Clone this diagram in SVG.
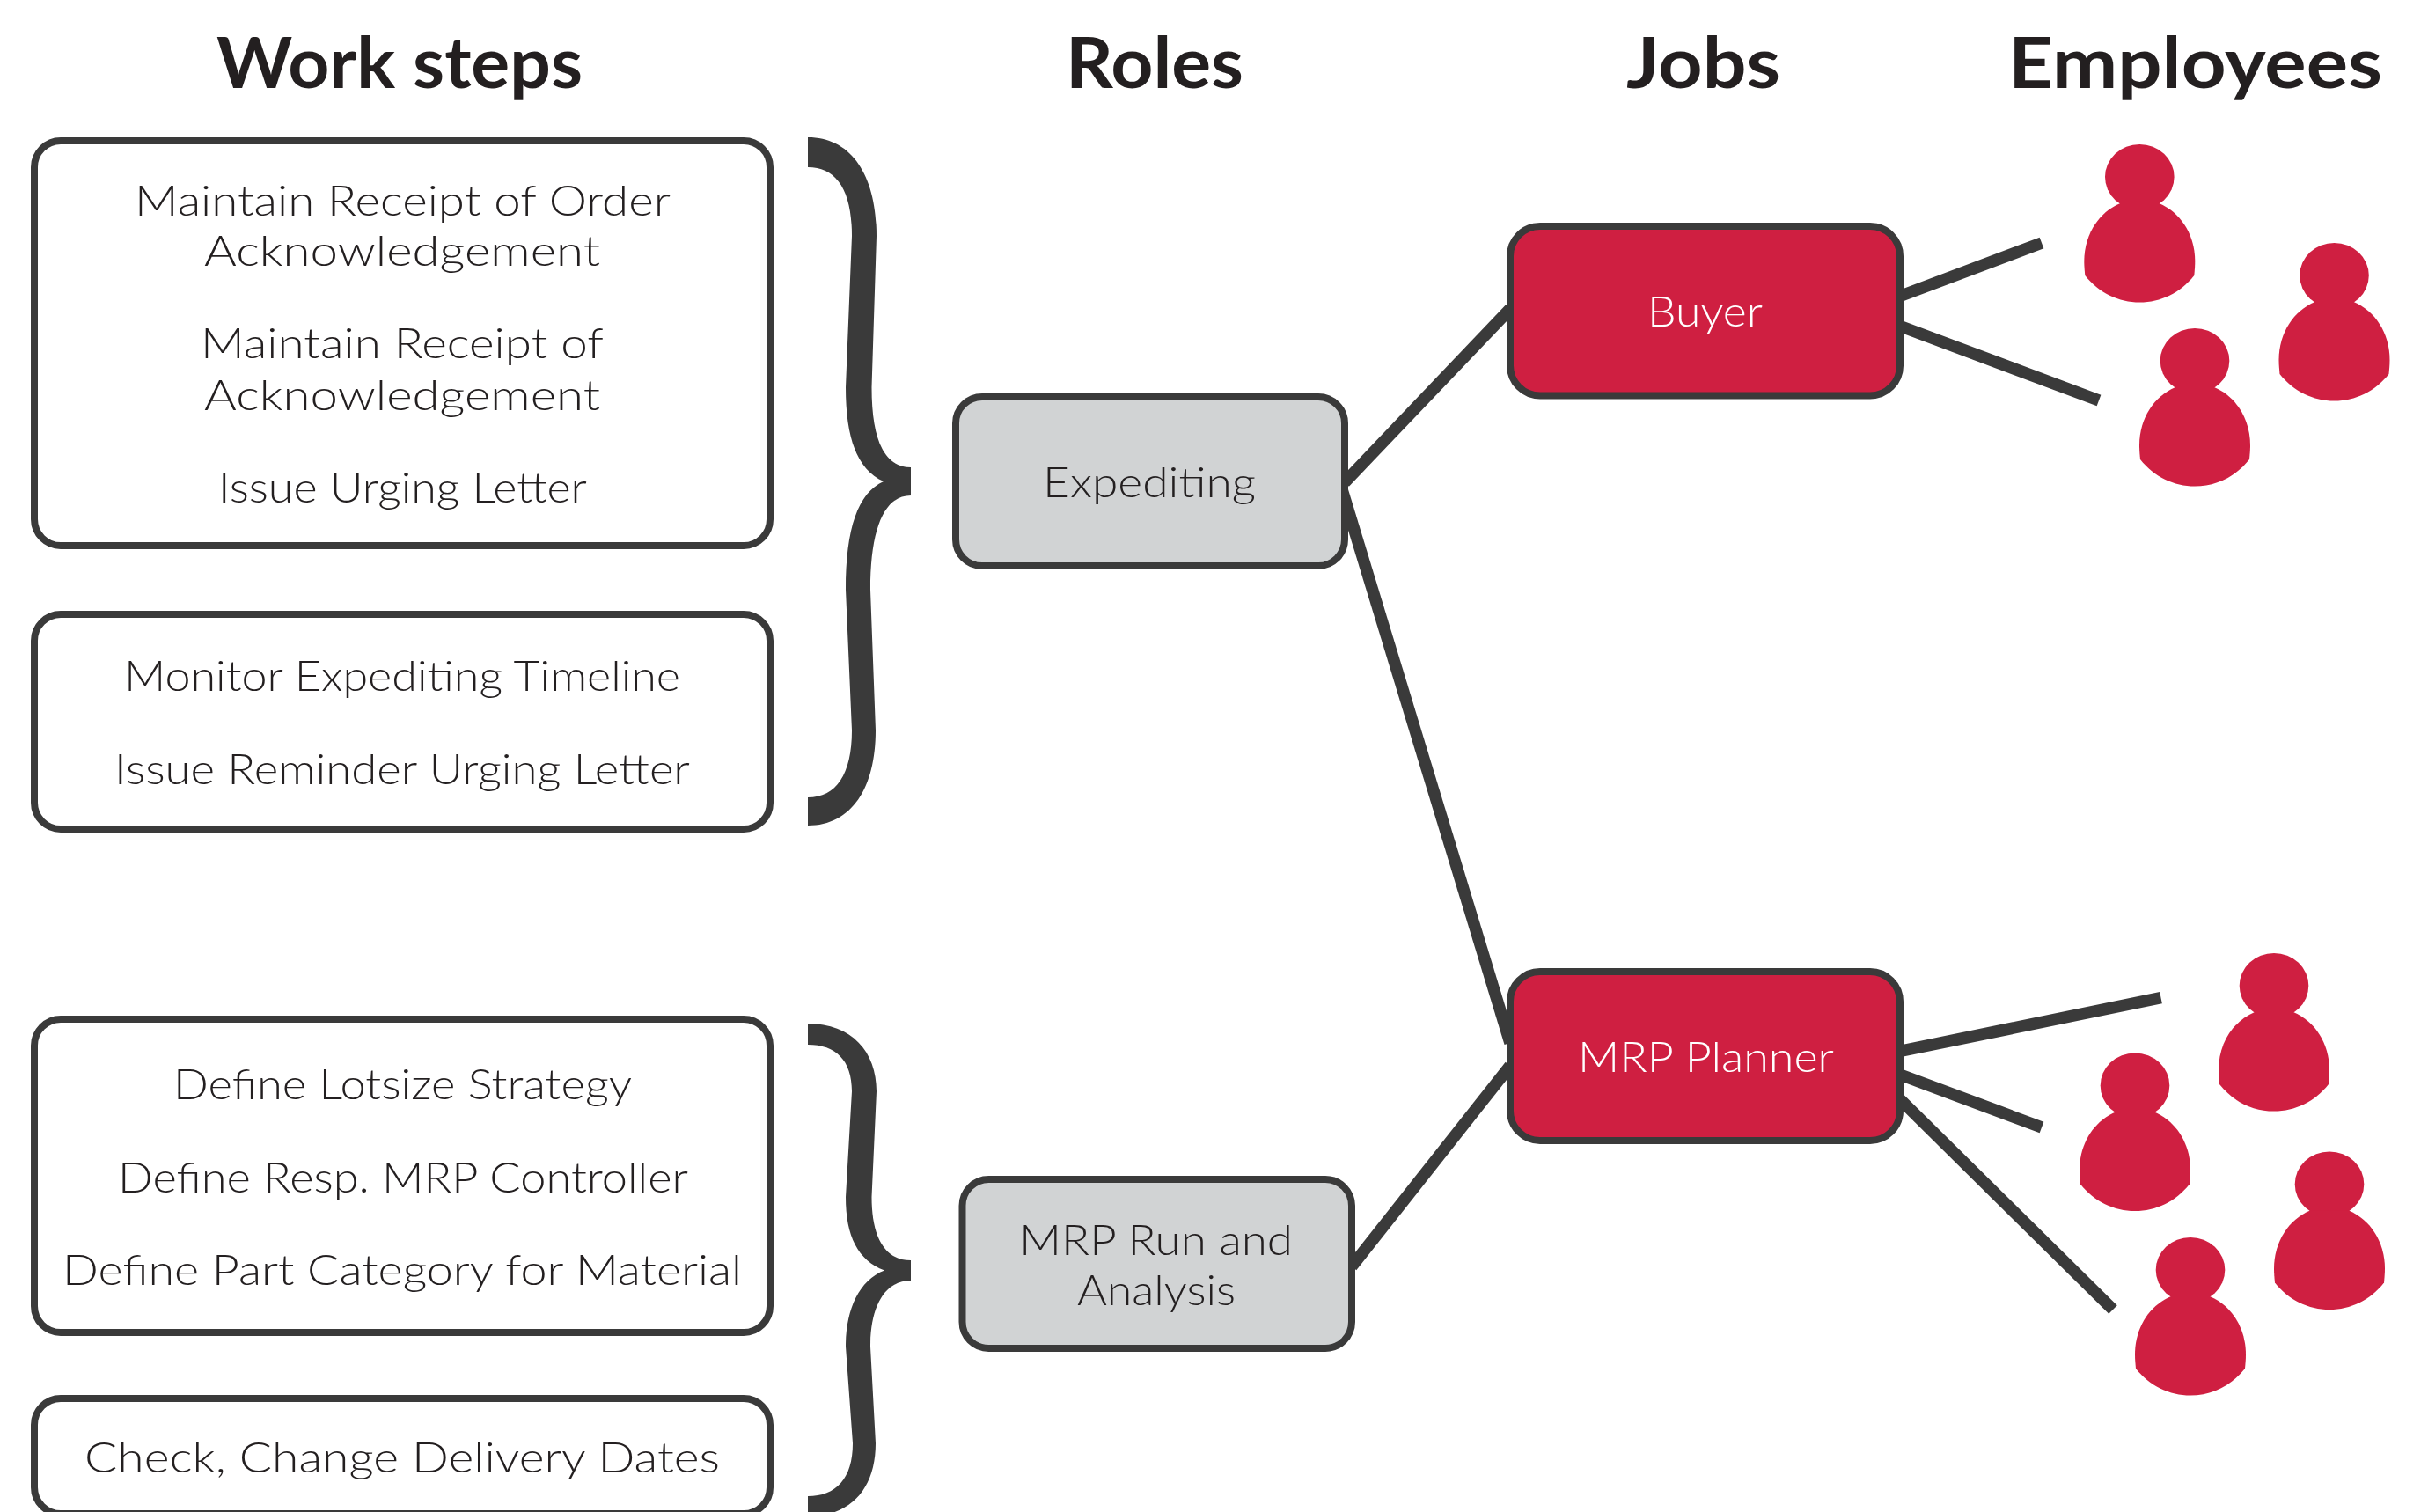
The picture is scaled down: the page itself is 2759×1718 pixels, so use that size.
<svg xmlns="http://www.w3.org/2000/svg" width="2759" height="1718" viewBox="0 0 2759 1718">
<style>
.box{stroke:#3a3a3a;stroke-width:8}
.step{fill:#fff}
.role{fill:#d1d3d4}
.job{fill:#cf1f41}
.conn{stroke:#3a3a3a;stroke-width:13.5;fill:none}
.brace{fill:#3a3a3a}
.person{fill:#cf1f41}
text{font-family:"Lato","Liberation Sans",sans-serif;font-size:47px;font-weight:300;fill:#231f20}
.head{font-size:80px;font-weight:700}
.white{fill:#fff}
</style>
<defs>
<g id="person-shape">
<ellipse cx="0" cy="37" rx="39.3" ry="37"/>
<path d="M-22,67 C-46,77 -63,102 -63,133 C-63,138 -62.500,144 -62,149 C-46,169 -24,179.500 0,179.500 C24,179.500 46,169 62,149 C62.500,144 63,138 63,133 C63,102 46,77 22,67 Z"/>
</g>
</defs>
<g id="headers">
<text class="head" x="246" y="100" textLength="416" lengthAdjust="spacingAndGlyphs">Work steps</text>
<text class="head" x="1211" y="100" textLength="202" lengthAdjust="spacingAndGlyphs">Roles</text>
<text class="head" x="1848" y="100" textLength="175" lengthAdjust="spacingAndGlyphs">Jobs</text>
<text class="head" x="2282" y="100" textLength="425" lengthAdjust="spacingAndGlyphs">Employees</text>
</g>
<g id="connectors">
<line class="conn" x1="1528" y1="548" x2="1716" y2="351"/>
<line class="conn" x1="1524" y1="553" x2="1716" y2="1185"/>
<line class="conn" x1="1536" y1="1439" x2="1716" y2="1211"/>
<line class="conn" x1="2159" y1="336.500" x2="2320" y2="276"/>
<line class="conn" x1="2159" y1="370.500" x2="2385" y2="455"/>
<line class="conn" x1="2159" y1="1194.400" x2="2455.500" y2="1133.700"/>
<line class="conn" x1="2159" y1="1221" x2="2320" y2="1281"/>
<line class="conn" x1="2159" y1="1249" x2="2401" y2="1488"/>
</g>
<g id="step-box-1">
<rect class="box step" x="39" y="160" width="836" height="460" rx="30"/>
<text x="153" y="245" textLength="609" lengthAdjust="spacingAndGlyphs">Maintain Receipt of Order</text>
<text x="232" y="302" textLength="450" lengthAdjust="spacingAndGlyphs">Acknowledgement</text>
<text x="228" y="407" textLength="458" lengthAdjust="spacingAndGlyphs">Maintain Receipt of</text>
<text x="232" y="465.500" textLength="450" lengthAdjust="spacingAndGlyphs">Acknowledgement</text>
<text x="248" y="570.500" textLength="419" lengthAdjust="spacingAndGlyphs">Issue Urging Letter</text>
</g>
<g id="step-box-2">
<rect class="box step" x="39" y="698" width="836" height="244" rx="30"/>
<text x="141" y="785" textLength="632" lengthAdjust="spacingAndGlyphs">Monitor Expediting Timeline</text>
<text x="130" y="890.500" textLength="654" lengthAdjust="spacingAndGlyphs">Issue Reminder Urging Letter</text>
</g>
<g id="step-box-3">
<rect class="box step" x="39" y="1158" width="836" height="356" rx="30"/>
<text x="197" y="1249" textLength="521" lengthAdjust="spacingAndGlyphs">Define Lotsize Strategy</text>
<text x="134" y="1354.500" textLength="648" lengthAdjust="spacingAndGlyphs">Define Resp. MRP Controller</text>
<text x="71" y="1459.500" textLength="772" lengthAdjust="spacingAndGlyphs">Define Part Category for Material</text>
</g>
<g id="step-box-4">
<rect class="box step" x="39" y="1589" width="836" height="131" rx="30"/>
<text x="96" y="1673" textLength="722" lengthAdjust="spacingAndGlyphs">Check, Change Delivery Dates</text>
</g>
<g id="brace-1">
<path class="brace" d="M918,156 C968,156 996,200 996,268 L990.500,440 C990.500,500 1005,531 1035,531 L1035,563 C1005,563 989,600 989,670 L995,830 C995,895 968,938 918,938 L918,906 C950,906 968,880 968,830 L961,670 C961,600 975,560 1004,547 C975,534 961,500 961,440 L968,268 C968,215 950,190 918,190 Z"/>
</g>
<g id="brace-2">
<path class="brace" d="M918,1163 C968,1163 996,1195 996,1240 L990.500,1360 C990.500,1405 1005,1432 1035,1432 L1035,1455 C1005,1455 989,1485 989,1530 L995,1640 C995,1690 968,1723 918,1723 L918,1700 C950,1700 969,1680 969,1640 L961,1530 C961,1490 975,1455 1005,1443.500 C975,1432 961,1405 961,1360 L968,1240 C968,1205 950,1187 918,1187 Z"/>
</g>
<g id="role-expediting">
<rect class="box role" x="1086" y="451" width="442" height="192" rx="30"/>
<text x="1185" y="565" textLength="242" lengthAdjust="spacingAndGlyphs">Expediting</text>
</g>
<g id="role-mrp">
<rect class="box role" x="1093.500" y="1340" width="442.500" height="192" rx="30"/>
<text x="1158" y="1426" textLength="311" lengthAdjust="spacingAndGlyphs">MRP Run and</text>
<text x="1224" y="1483" textLength="180" lengthAdjust="spacingAndGlyphs">Analysis</text>
</g>
<g id="job-buyer">
<rect class="box job" x="1716" y="257" width="443" height="192.500" rx="34"/>
<text class="white" x="1872" y="371" textLength="131" lengthAdjust="spacingAndGlyphs">Buyer</text>
</g>
<g id="job-mrp-planner">
<rect class="box job" x="1716" y="1104" width="443" height="192" rx="34"/>
<text class="white" x="1793" y="1217.500" textLength="291" lengthAdjust="spacingAndGlyphs">MRP Planner</text>
</g>
<g id="employee-1" class="person" transform="translate(2431.300,164)"><use href="#person-shape"/></g>
<g id="employee-2" class="person" transform="translate(2652.500,276)"><use href="#person-shape"/></g>
<g id="employee-3" class="person" transform="translate(2494,373)"><use href="#person-shape"/></g>
<g id="employee-4" class="person" transform="translate(2584,1083)"><use href="#person-shape"/></g>
<g id="employee-5" class="person" transform="translate(2426,1196.500)"><use href="#person-shape"/></g>
<g id="employee-6" class="person" transform="translate(2647,1308.500)"><use href="#person-shape"/></g>
<g id="employee-7" class="person" transform="translate(2489,1406)"><use href="#person-shape"/></g>
</svg>
